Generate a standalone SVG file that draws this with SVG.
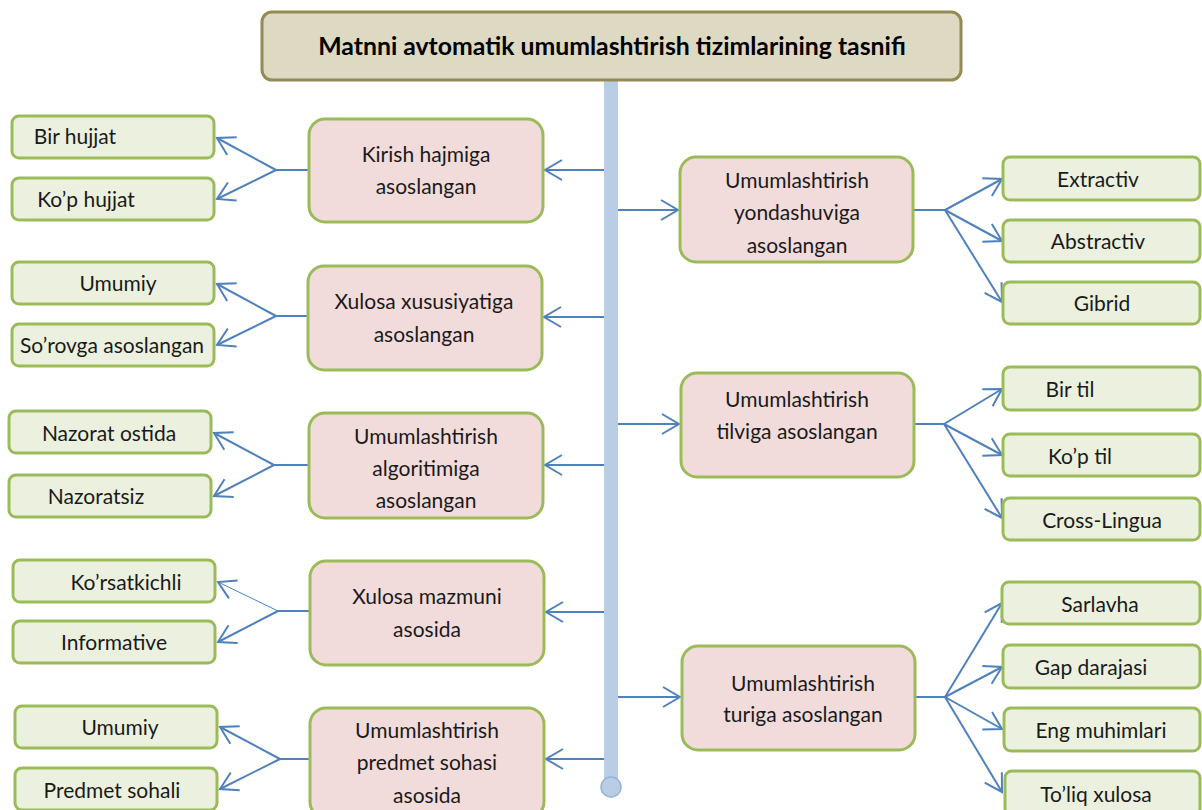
<svg xmlns="http://www.w3.org/2000/svg" width="1202" height="810" viewBox="0 0 1202 810">
  <style>
    .title { fill: #ddd9c3; stroke: #948a54; stroke-width: 3; }
    .cat { fill: #f2dcdb; stroke: #9bbb59; stroke-width: 3; }
    .leaf { fill: #ebf1de; stroke: #9bbb59; stroke-width: 3; }
    text { font-family: Lato, "Open Sans", "Liberation Sans", sans-serif; font-size: 21px; fill: #1a1a1a; text-anchor: middle; }
    .tt { font-size: 24.8px; font-weight: bold; fill: #000; }
    .link { fill: none; stroke: #4f81bd; stroke-width: 2; }
    .thin { stroke-width: 1; }
  </style>
  <defs>
    <marker id="arrow" markerUnits="userSpaceOnUse" markerWidth="40" markerHeight="40" viewBox="-20 -20 40 40" refX="0" refY="0" orient="auto">
      <path d="M-17,-10 L0,0 L-17,10" fill="none" stroke="#4f81bd" stroke-width="2"/>
    </marker>
  </defs>

  <rect width="1202" height="810" fill="#ffffff"/>

  <!-- central spine -->
  <g id="spine">
    <rect x="604" y="80" width="14" height="704" fill="#b9cde5"/>
    <circle cx="611" cy="787" r="10" fill="#b9cde5" stroke="#95b3d7" stroke-width="1.5"/>
  </g>

  <!-- connectors -->
  <g id="connectors">
    <!-- spine to left categories -->
    <line class="link" x1="604" y1="170" x2="545" y2="170" marker-end="url(#arrow)"/>
    <line class="link" x1="604" y1="317" x2="544" y2="317" marker-end="url(#arrow)"/>
    <line class="link" x1="604" y1="465" x2="545" y2="465" marker-end="url(#arrow)"/>
    <line class="link" x1="604" y1="612" x2="546" y2="612" marker-end="url(#arrow)"/>
    <line class="link" x1="604" y1="759" x2="546" y2="759" marker-end="url(#arrow)"/>
    <!-- spine to right categories -->
    <line class="link" x1="618" y1="210" x2="678" y2="210" marker-end="url(#arrow)"/>
    <line class="link" x1="618" y1="424" x2="679" y2="424" marker-end="url(#arrow)"/>
    <line class="link" x1="618" y1="697" x2="680" y2="697" marker-end="url(#arrow)"/>

    <!-- left fans -->
    <path class="link" d="M309,170 H276"/>
    <path class="link" d="M276,170 L217,138" marker-end="url(#arrow)"/>
    <path class="link" d="M276,170 L217,199" marker-end="url(#arrow)"/>

    <path class="link" d="M308,316 H276"/>
    <path class="link" d="M276,316 L217,284" marker-end="url(#arrow)"/>
    <path class="link" d="M276,316 L217,345" marker-end="url(#arrow)"/>

    <path class="link" d="M309,465 H274"/>
    <path class="link" d="M274,465 L214,433" marker-end="url(#arrow)"/>
    <path class="link" d="M274,465 L214,496" marker-end="url(#arrow)"/>

    <path class="link" d="M310,611 H278"/>
    <path class="link thin" d="M278,611 L218,582" marker-end="url(#arrow)"/>
    <path class="link" d="M278,611 L218,642" marker-end="url(#arrow)"/>

    <path class="link" d="M310,759 H280"/>
    <path class="link" d="M280,759 L220,727" marker-end="url(#arrow)"/>
    <path class="link" d="M280,759 L220,789" marker-end="url(#arrow)"/>

    <!-- right fans -->
    <path class="link" d="M913,210 H945"/>
    <path class="link" d="M945,210 L1002,179" marker-end="url(#arrow)"/>
    <path class="link" d="M945,210 L1002,241" marker-end="url(#arrow)"/>
    <path class="link" d="M945,210 L1002,302" marker-end="url(#arrow)"/>

    <path class="link" d="M914,424 H944"/>
    <path class="link" d="M944,424 L1002,389" marker-end="url(#arrow)"/>
    <path class="link" d="M944,424 L1002,455" marker-end="url(#arrow)"/>
    <path class="link" d="M944,424 L1002,518" marker-end="url(#arrow)"/>

    <path class="link" d="M915,697 H945"/>
    <path class="link" d="M945,697 L1002,603" marker-end="url(#arrow)"/>
    <path class="link" d="M945,697 L1002,667" marker-end="url(#arrow)"/>
    <path class="link" d="M945,697 L1002,729" marker-end="url(#arrow)"/>
    <path class="link" d="M945,697 L1002,792" marker-end="url(#arrow)"/>
  </g>

  <!-- title -->
  <g id="title">
    <rect class="title" x="262" y="12" width="699" height="68" rx="10"/>
    <text class="tt" x="612" y="55">Matnni avtomatik umumlashtirish tizimlarining tasnifi</text>
  </g>

  <!-- left categories -->
  <g id="cat-kirish">
    <rect class="cat" x="309" y="119" width="234" height="103" rx="16"/>
    <text x="426" y="162">Kirish hajmiga</text>
    <text x="426" y="194">asoslangan</text>
  </g>
  <g id="cat-xususiyat">
    <rect class="cat" x="308" y="266" width="234" height="104" rx="16"/>
    <text x="424" y="309">Xulosa xususiyatiga</text>
    <text x="424" y="342">asoslangan</text>
  </g>
  <g id="cat-algoritm">
    <rect class="cat" x="309" y="413" width="234" height="105" rx="16"/>
    <text x="426" y="444">Umumlashtirish</text>
    <text x="426" y="476">algoritimiga</text>
    <text x="426" y="508">asoslangan</text>
  </g>
  <g id="cat-mazmun">
    <rect class="cat" x="310" y="561" width="234" height="104" rx="16"/>
    <text x="427" y="604">Xulosa mazmuni</text>
    <text x="427" y="637">asosida</text>
  </g>
  <g id="cat-predmet">
    <rect class="cat" x="310" y="708" width="234" height="110" rx="16"/>
    <text x="427" y="738">Umumlashtirish</text>
    <text x="427" y="770">predmet sohasi</text>
    <text x="427" y="803">asosida</text>
  </g>

  <!-- left leaves -->
  <g id="leaf-bir-hujjat">
    <rect class="leaf" x="12" y="116" width="202" height="42" rx="7"/>
    <text x="75" y="144">Bir hujjat</text>
  </g>
  <g id="leaf-kop-hujjat">
    <rect class="leaf" x="12" y="178" width="202" height="42" rx="7"/>
    <text x="86" y="207">Ko’p hujjat</text>
  </g>
  <g id="leaf-umumiy-1">
    <rect class="leaf" x="12" y="262" width="202" height="42" rx="7"/>
    <text x="118" y="291">Umumiy</text>
  </g>
  <g id="leaf-sorov">
    <rect class="leaf" x="12" y="324" width="202" height="42" rx="7"/>
    <text x="112" y="353">So’rovga asoslangan</text>
  </g>
  <g id="leaf-nazorat">
    <rect class="leaf" x="9" y="411" width="202" height="42" rx="7"/>
    <text x="109" y="441">Nazorat ostida</text>
  </g>
  <g id="leaf-nazoratsiz">
    <rect class="leaf" x="9" y="475" width="202" height="42" rx="7"/>
    <text x="96" y="504">Nazoratsiz</text>
  </g>
  <g id="leaf-korsatkichli">
    <rect class="leaf" x="13" y="560" width="202" height="42" rx="7"/>
    <text x="126" y="590">Ko’rsatkichli</text>
  </g>
  <g id="leaf-informative">
    <rect class="leaf" x="13" y="621" width="202" height="42" rx="7"/>
    <text x="114" y="650">Informative</text>
  </g>
  <g id="leaf-umumiy-2">
    <rect class="leaf" x="15" y="706" width="202" height="42" rx="7"/>
    <text x="120" y="735">Umumiy</text>
  </g>
  <g id="leaf-predmet">
    <rect class="leaf" x="15" y="768" width="202" height="42" rx="7"/>
    <text x="112" y="798">Predmet sohali</text>
  </g>

  <!-- right categories -->
  <g id="cat-yondashuv">
    <rect class="cat" x="680" y="157" width="233" height="105" rx="16"/>
    <text x="797" y="188">Umumlashtirish</text>
    <text x="797" y="220">yondashuviga</text>
    <text x="797" y="253">asoslangan</text>
  </g>
  <g id="cat-til">
    <rect class="cat" x="681" y="373" width="233" height="104" rx="16"/>
    <text x="797" y="407">Umumlashtirish</text>
    <text x="797" y="439">tilviga asoslangan</text>
  </g>
  <g id="cat-tur">
    <rect class="cat" x="682" y="646" width="233" height="104" rx="16"/>
    <text x="803" y="691">Umumlashtirish</text>
    <text x="803" y="722">turiga asoslangan</text>
  </g>

  <!-- right leaves -->
  <g id="leaf-extractiv">
    <rect class="leaf" x="1003" y="157" width="197" height="43" rx="7"/>
    <text x="1098" y="187">Extractiv</text>
  </g>
  <g id="leaf-abstractiv">
    <rect class="leaf" x="1003" y="220" width="197" height="42" rx="7"/>
    <text x="1098" y="249">Abstractiv</text>
  </g>
  <g id="leaf-gibrid">
    <rect class="leaf" x="1003" y="282" width="197" height="42" rx="7"/>
    <text x="1102" y="311">Gibrid</text>
  </g>
  <g id="leaf-bir-til">
    <rect class="leaf" x="1003" y="367" width="197" height="43" rx="7"/>
    <text x="1070" y="397">Bir til</text>
  </g>
  <g id="leaf-kop-til">
    <rect class="leaf" x="1003" y="434" width="197" height="42" rx="7"/>
    <text x="1080" y="464">Ko’p til</text>
  </g>
  <g id="leaf-cross">
    <rect class="leaf" x="1003" y="498" width="197" height="42" rx="7"/>
    <text x="1102" y="528">Cross-Lingua</text>
  </g>
  <g id="leaf-sarlavha">
    <rect class="leaf" x="1002" y="582" width="198" height="42" rx="7"/>
    <text x="1100" y="612">Sarlavha</text>
  </g>
  <g id="leaf-gap">
    <rect class="leaf" x="1003" y="645" width="197" height="43" rx="7"/>
    <text x="1091" y="675">Gap darajasi</text>
  </g>
  <g id="leaf-eng">
    <rect class="leaf" x="1004" y="708" width="196" height="43" rx="7"/>
    <text x="1101" y="738">Eng muhimlari</text>
  </g>
  <g id="leaf-toliq">
    <rect class="leaf" x="1005" y="771" width="195" height="45" rx="7"/>
    <text x="1096" y="802">To’liq xulosa</text>
  </g>
</svg>
